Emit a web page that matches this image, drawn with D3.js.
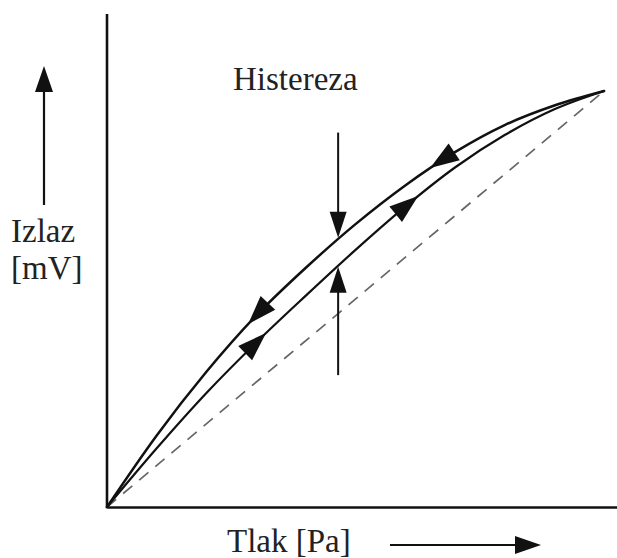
<!DOCTYPE html>
<html><head><meta charset="utf-8">
<script src="https://cdn.jsdelivr.net/npm/d3@7"></script>
<style>html,body{margin:0;padding:0;background:#fff;}svg{display:block;}</style>
</head><body>
<svg id="chart" width="617" height="558"></svg>
<script>
// Data (relative units, 0-100)
const pressure = [0, 10, 20, 30, 40, 50, 60, 70, 80, 90, 100];
const unloading = [0, 17.2, 32.5, 46.0, 57.5, 68.0, 77.3, 85.3, 91.8, 96.5, 100];
const loading   = [0, 14.1, 27.4, 39.5, 50.8, 61.8, 72.2, 81.6, 89.4, 95.6, 100];
const linear    = [0, 100];
const linearP   = [0, 100];
const unloadArrowsP = [28.4, 65];
const loadArrowsP = [32, 62.6];
const hystP = 46.5;
const hystDownFrom = 90;
const hystUpFrom = 31.7;
const labels = { title: "Histereza", yLine1: "Izlaz", yLine2: "[mV]", xLabel: "Tlak [Pa]" };

const svg = d3.select("#chart");
const x = d3.scaleLinear().domain([0, 102.6]).range([107, 617]);
const y = d3.scaleLinear().domain([0, 118.5]).range([507, 14]);

const ink = "#111";
const font = "'Liberation Serif','Times New Roman',serif";

// axes (domain lines only)
const gx = svg.append("g").attr("transform", `translate(0,${y(0)})`)
  .call(d3.axisBottom(x).ticks(0).tickSizeOuter(0));
const gy = svg.append("g").attr("transform", `translate(${x(0)},0)`)
  .call(d3.axisLeft(y).ticks(0).tickSizeOuter(0));
[gx, gy].forEach(g => g.select(".domain").attr("stroke", ink).attr("stroke-width", 2.6));
gy.select(".domain").attr("d", `M0,${y(0)+1.3}V${y(118.5)}`);

// dashed linear reference
svg.append("path")
  .datum(linearP.map((p, i) => [p, linear[i]]))
  .attr("d", d3.line().x(d => x(d[0])).y(d => y(d[1])))
  .attr("fill", "none").attr("stroke", "#666").attr("stroke-width", 1.7)
  .attr("stroke-dasharray", "12,9");

const lineGen = d3.line().x(d => x(d[0])).y(d => y(d[1])).curve(d3.curveMonotoneX);
function drawCurve(vals, w) {
  return svg.append("path")
    .datum(pressure.map((p, i) => [p, vals[i]]))
    .attr("d", lineGen)
    .attr("fill", "none").attr("stroke", ink).attr("stroke-width", w)
    .attr("stroke-linecap", "round");
}
const upPath = drawCurve(unloading, 2.5);
const loPath = drawCurve(loading, 2.2);

function pointAtX(path, px) {
  const node = path.node();
  const L = node.getTotalLength();
  let lo = 0, hi = L;
  for (let k = 0; k < 40; k++) {
    const m = (lo + hi) / 2;
    if (node.getPointAtLength(m).x < px) lo = m; else hi = m;
  }
  return { len: lo, pt: node.getPointAtLength(lo), node };
}

function triangle(tipX, tipY, angle, len, wid) {
  const c = Math.cos(angle), s = Math.sin(angle);
  const bx = tipX - c * len, by = tipY - s * len;
  const px = -s * wid / 2, py = c * wid / 2;
  svg.append("path")
    .attr("d", `M${tipX},${tipY}L${bx + px},${by + py}L${bx - px},${by - py}Z`)
    .attr("fill", ink);
}

function curveArrow(path, p, forward) {
  const { len, pt, node } = pointAtX(path, x(p));
  const a = node.getPointAtLength(Math.max(0, len - 2));
  const b = node.getPointAtLength(len + 2);
  let ang = Math.atan2(b.y - a.y, b.x - a.x);
  if (!forward) ang += Math.PI;
  triangle(pt.x, pt.y, ang, 29, 20);
}
unloadArrowsP.forEach(p => curveArrow(upPath, p, false));
loadArrowsP.forEach(p => curveArrow(loPath, p, true));

// hysteresis markers
const hx = x(hystP);
const upTip = pointAtX(upPath, hx).pt;
const loTip = pointAtX(loPath, hx).pt;
svg.append("line").attr("x1", hx).attr("x2", hx).attr("y1", y(hystDownFrom)).attr("y2", upTip.y - 20)
  .attr("stroke", ink).attr("stroke-width", 2);
triangle(hx, upTip.y - 1, Math.PI / 2, 26, 17);
svg.append("line").attr("x1", hx).attr("x2", hx).attr("y1", y(hystUpFrom)).attr("y2", loTip.y + 20)
  .attr("stroke", ink).attr("stroke-width", 2);
triangle(hx, loTip.y + 1, -Math.PI / 2, 26, 17);

// axis direction arrows
svg.append("line").attr("x1", 44).attr("x2", 44).attr("y1", 205).attr("y2", 85)
  .attr("stroke", ink).attr("stroke-width", 2.2);
triangle(44, 66, -Math.PI / 2, 26, 18);
svg.append("line").attr("x1", 390).attr("x2", 520).attr("y1", 545).attr("y2", 545)
  .attr("stroke", ink).attr("stroke-width", 2.2);
triangle(541, 545, 0, 26, 18);

// labels
const txt = (t, tx, ty) => svg.append("text").attr("x", tx).attr("y", ty).text(t)
  .attr("font-family", font).attr("font-size", 33).attr("fill", "#222");
txt(labels.title, 233, 90);
txt(labels.yLine1, 11, 242);
txt(labels.yLine2, 11, 279);
txt(labels.xLabel, 227, 552);
</script>
</body></html>
